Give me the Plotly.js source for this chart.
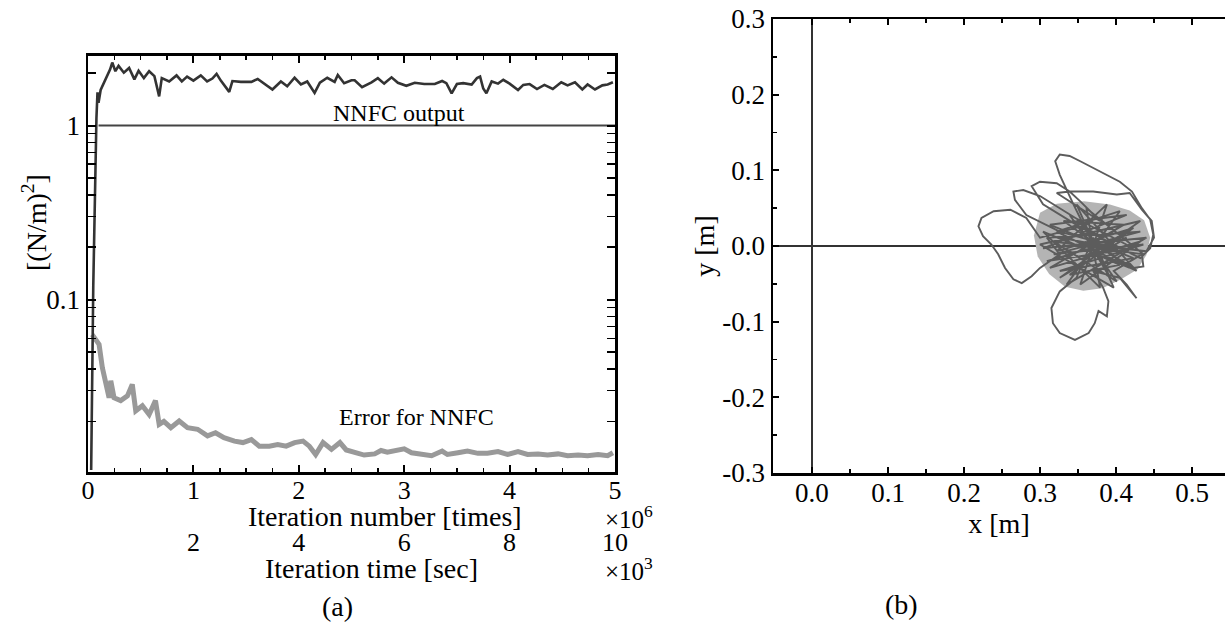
<!DOCTYPE html>
<html>
<head>
<meta charset="utf-8">
<script src="https://cdn.plot.ly/plotly-3.0.1.min.js"></script>
<style>html,body{margin:0;padding:0;background:#fff;}#chart{width:1225px;height:623px;}</style>
</head>
<body>
<div id="chart"></div>
<script>
// ---------- (a) learning curves ----------
const outputX = [0.03,0.04,0.05,0.06,0.07,0.08,0.09,0.10,0.12,0.15,0.18,0.21,0.23,
  0.26,0.29,0.34,0.39,0.44,0.48,0.53,0.58,0.63,0.675,
  0.70,0.77,0.84,0.89,0.94,1.00,1.07,1.13,1.18,1.22,
  1.26,1.34,1.37,1.45,1.55,1.61,1.69,1.75,1.83,1.89,
  1.96,2.02,2.08,2.15,2.20,2.27,2.34,2.37,2.43,2.50,
  2.53,2.60,2.69,2.75,2.81,2.88,2.94,3.02,3.10,3.19,
  3.29,3.36,3.40,3.45,3.50,3.56,3.64,3.69,3.72,3.75,
  3.78,3.83,3.89,3.94,4.00,4.08,4.13,4.19,4.26,4.33,
  4.41,4.49,4.55,4.62,4.69,4.74,4.81,4.88,4.93,4.98];
const outputY = [0.0105,0.05,0.12,0.25,0.6,1.1,1.55,1.35,1.6,1.75,1.95,2.1,2.3,
  2.05,2.2,2.01,2.14,1.84,2.06,1.87,2.05,1.92,1.47,
  1.87,1.79,1.94,1.79,1.91,1.81,1.94,1.79,1.86,1.98,
  1.81,1.56,1.80,1.78,1.78,1.85,1.72,1.61,1.79,1.68,
  1.88,1.72,1.79,1.54,1.76,1.88,1.78,1.95,1.75,1.82,
  1.82,1.66,1.77,1.87,1.74,1.89,1.76,1.69,1.76,1.73,
  1.73,1.80,1.75,1.53,1.73,1.75,1.72,1.87,1.91,1.63,
  1.53,1.79,1.74,1.83,1.74,1.60,1.71,1.73,1.62,1.71,
  1.62,1.77,1.70,1.77,1.61,1.72,1.61,1.70,1.72,1.77];

const refX = [0.1, 5];
const refY = [1.0, 1.0];

const errX = [0.04,0.057,0.105,0.136,0.168,0.20,0.216,0.247,0.31,0.374,0.42,0.453,0.516,0.58,0.64,0.675,0.72,0.786,0.865,0.944,
  1.04,1.134,1.21,1.29,1.39,1.47,1.55,1.625,1.72,1.80,1.88,1.96,2.04,2.10,2.16,2.23,2.31,2.39,2.45,
  2.53,2.62,2.72,2.78,2.84,2.94,3.00,3.07,3.17,3.26,3.36,3.41,3.51,3.60,3.70,3.79,3.89,3.98,
  4.08,4.17,4.27,4.36,4.46,4.55,4.65,4.74,4.84,4.93,4.98];
const errY = [0.063,0.0605,0.0553,0.0407,0.0326,0.0273,0.0342,0.0273,0.0263,0.028,0.0326,0.023,0.0246,0.0219,0.0263,0.0192,0.020,0.0184,0.0201,0.0184,
  0.0180,0.0165,0.0172,0.0161,0.0154,0.0151,0.0157,0.0144,0.0144,0.0147,0.0144,0.0151,0.0154,0.0144,0.0129,0.0151,0.0138,0.0151,0.0137,
  0.0133,0.0128,0.0130,0.0136,0.0133,0.0136,0.0139,0.0132,0.0130,0.0127,0.0135,0.0129,0.0132,0.0135,0.0131,0.0131,0.0134,0.0129,
  0.0134,0.0129,0.0130,0.0128,0.0130,0.0127,0.0128,0.0127,0.0129,0.0127,0.0132];

const iterTickVals = [0,1,2,3,4,5];
const iterTickText = ['0','1','2','3','4','5'];
const timeTickVals = [2,4,6,8,10];
const timeTickText = ['2','4','6','8','10'];
const logTickVals = [0.1, 1];
const logTickText = ['0.1', '1'];
const logMinorVals = [0.02,0.03,0.04,0.05,0.06,0.07,0.08,0.09,0.2,0.3,0.4,0.5,0.6,0.7,0.8,0.9,2];

// ---------- (b) x-y trajectory ----------
const trajX = [
  0.370,0.344,0.326,0.320,0.326,0.339,0.353,0.370,0.388,0.405,0.421,0.434,0.445,0.449,0.445,0.432,0.414,
  0.348,0.304,0.289,0.300,0.322,0.339,0.353,0.379,
  0.344,0.322,0.339,0.370,0.401,0.418,0.434,0.447,0.450,0.440,0.405,
  0.326,0.282,0.267,0.265,0.278,0.300,0.326,0.361,
  0.300,0.282,0.261,0.239,0.223,0.219,0.225,0.236,0.245,0.254,0.265,0.276,0.289,0.300,0.326,
  0.309,0.432,0.318,0.436,0.326,0.423,0.313,0.414,0.304,0.440,0.335,0.405,0.322,0.427,0.348,0.397,
  0.300,0.432,0.326,0.414,0.309,0.423,0.339,0.401,0.318,0.436,0.361,0.379,0.304,0.418,0.331,0.410,
  0.313,0.432,0.353,0.388,0.322,0.423,0.339,0.405,0.326,0.401,0.348,0.392,0.370,
  0.348,0.326,0.315,0.317,0.326,0.346,0.364,0.372,0.377,0.388,0.390,0.383,0.370,
  0.405,0.418,0.427,0.414,0.397,
  0.434,0.436,0.423,0.401,0.379];
const trajY = [
  0.002,0.055,0.094,0.112,0.121,0.119,0.112,0.103,0.094,0.085,0.072,0.050,0.035,0.015,-0.003,-0.016,-0.007,
  0.028,0.055,0.079,0.085,0.083,0.072,0.059,0.033,
  0.055,0.070,0.072,0.072,0.068,0.070,0.048,0.033,0.011,-0.007,-0.003,
  0.019,0.041,0.061,0.072,0.074,0.066,0.050,0.028,
  0.011,0.037,0.048,0.046,0.037,0.026,0.013,0.002,-0.011,-0.029,-0.044,-0.049,-0.040,-0.029,-0.011,
  0.011,0.019,-0.011,0.002,-0.033,-0.016,0.028,0.041,-0.003,0.011,-0.051,0.046,0.019,-0.033,0.055,-0.055,
  0.002,0.033,-0.042,0.011,-0.020,-0.003,0.041,-0.047,0.006,-0.011,0.050,-0.055,0.019,-0.029,0.033,0.028,
  -0.029,0.006,-0.051,0.055,-0.007,0.024,-0.038,-0.025,0.011,-0.003,0.033,-0.042,0.011,
  -0.042,-0.060,-0.082,-0.102,-0.115,-0.124,-0.115,-0.102,-0.086,-0.093,-0.073,-0.055,-0.033,
  -0.042,-0.058,-0.069,-0.051,-0.033,
  -0.011,-0.027,-0.029,-0.016,0.002];

// dense central region of the trajectory (outline)
const coreX = [0.300,0.322,0.358,0.392,0.418,0.437,0.445,0.440,0.428,0.405,0.382,0.357,0.333,0.312,0.297,0.292,0.300];
const coreY = [0.044,0.056,0.059,0.055,0.047,0.034,0.011,-0.012,-0.031,-0.045,-0.056,-0.059,-0.054,-0.037,-0.014,0.014,0.044];

const xyTickVals = [0, 0.1, 0.2, 0.3, 0.4, 0.5];
const xyTickText = ['0.0','0.1','0.2','0.3','0.4','0.5'];
const yyTickVals = [-0.3,-0.2,-0.1,0,0.1,0.2,0.3];
const yyTickText = ['-0.3','-0.2','-0.1','0.0','0.1','0.2','0.3'];

// ---------- drawing ----------
const W = 1225, H = 623;
const PX = v => v / W;
const PY = v => 1 - v / H;
const FONT = 'Liberation Serif';
const tf = () => ({family: FONT, size: 26, color: '#000'});
const minorTicks = (extra) => Object.assign({ticks: 'inside', ticklen: 4, tickwidth: 1.5, tickcolor: '#000'}, extra);

const traces = [
  {x: errX, y: errY, xaxis: 'x', yaxis: 'y', mode: 'lines', name: 'Error for NNFC',
   line: {color: '#999', width: 5}, showlegend: false, hoverinfo: 'skip'},
  {x: refX, y: refY, xaxis: 'x', yaxis: 'y', mode: 'lines', name: 'reference',
   line: {color: '#444', width: 1.8}, showlegend: false, hoverinfo: 'skip'},
  {x: outputX, y: outputY, xaxis: 'x', yaxis: 'y', mode: 'lines', name: 'NNFC output',
   line: {color: '#333', width: 2.6}, showlegend: false, hoverinfo: 'skip'},
  {x: [0, 10], y: [null, null], xaxis: 'x2', yaxis: 'y', mode: 'lines', showlegend: false, hoverinfo: 'skip'},
  {x: coreX, y: coreY, xaxis: 'x3', yaxis: 'y3', mode: 'lines', fill: 'toself', fillcolor: '#b4b4b4',
   line: {width: 0, color: 'rgba(0,0,0,0)'}, showlegend: false, hoverinfo: 'skip'},
  {x: trajX, y: trajY, xaxis: 'x3', yaxis: 'y3', mode: 'lines', name: 'trajectory',
   line: {color: '#5c5c5c', width: 1.9}, showlegend: false, hoverinfo: 'skip'}
];

const layout = {
  width: W, height: H,
  margin: {l: 0, r: 0, t: 0, b: 0},
  paper_bgcolor: '#fff', plot_bgcolor: 'rgba(0,0,0,0)',
  font: {family: FONT, color: '#000'},
  showlegend: false,
  xaxis: {
    domain: [PX(88), PX(615)], range: [0, 5], anchor: 'y',
    showline: true, linecolor: '#000', linewidth: 2.5, mirror: 'allticks',
    showgrid: false, zeroline: false, fixedrange: true,
    ticks: 'inside', tickcolor: '#000', ticklen: 7, tickwidth: 2,
    tickmode: 'array', tickvals: iterTickVals, ticktext: iterTickText,
    tickfont: tf(), ticklabelstandoff: -7,
    minor: minorTicks({dtick: 0.25, tick0: 0})
  },
  xaxis2: {
    overlaying: 'x', anchor: 'free', position: PY(524), side: 'bottom',
    range: [0, 10], showline: false, showgrid: false, zeroline: false, ticks: '',
    tickmode: 'array', tickvals: timeTickVals, ticktext: timeTickText,
    tickfont: tf(), fixedrange: true
  },
  yaxis: {
    domain: [PY(472), PY(55.5)], type: 'log', range: [-1.99, 0.402], anchor: 'x',
    showline: true, linecolor: '#000', linewidth: 2.5, mirror: 'allticks',
    showgrid: false, zeroline: false, fixedrange: true,
    ticks: 'inside', tickcolor: '#000', ticklen: 8, tickwidth: 2,
    tickmode: 'array', tickvals: logTickVals, ticktext: logTickText,
    tickfont: {family: FONT, size: 27, color: '#000'},
    minor: minorTicks({tickmode: 'array', tickvals: logMinorVals, ticklen: 5})
  },
  xaxis3: {
    domain: [PX(773), 1], range: [-0.0513, 0.5434], anchor: 'y3',
    showline: true, linecolor: '#000', linewidth: 2.5, mirror: 'allticks',
    showgrid: false, fixedrange: true,
    ticks: 'inside', tickcolor: '#000', ticklen: 6, tickwidth: 2,
    tickmode: 'array', tickvals: xyTickVals, ticktext: xyTickText,
    tickfont: {family: FONT, size: 27, color: '#000'}, ticklabelstandoff: -6,
    minor: minorTicks({dtick: 0.05, tick0: 0}),
    zeroline: true, zerolinecolor: '#333', zerolinewidth: 1.6,
    title: {text: 'x [m]', font: {family: FONT, size: 28, color: '#000'}, standoff: 0}
  },
  yaxis3: {
    domain: [PY(473), PY(19)], range: [-0.3, 0.3], anchor: 'x3',
    showline: true, linecolor: '#000', linewidth: 2.5, mirror: false,
    showgrid: false, fixedrange: true,
    ticks: 'inside', tickcolor: '#000', ticklen: 6, tickwidth: 2,
    tickmode: 'array', tickvals: yyTickVals, ticktext: yyTickText,
    tickfont: {family: FONT, size: 27, color: '#000'},
    minor: minorTicks({dtick: 0.05, tick0: 0}),
    zeroline: true, zerolinecolor: '#333', zerolinewidth: 1.6,
    title: {text: 'y [m]', font: {family: FONT, size: 28, color: '#000'}, standoff: 0}
  },
  annotations: [
    {xref: 'paper', yref: 'paper', x: PX(34), y: PY(223), text: '[(N/m)<sup>2</sup>]', textangle: -90,
     showarrow: false, font: {family: FONT, size: 28, color: '#000'}, xanchor: 'center', yanchor: 'middle'},
    {xref: 'paper', yref: 'paper', x: PX(385), y: PY(516), text: 'Iteration number [times]',
     showarrow: false, font: {family: FONT, size: 28, color: '#000'}, xanchor: 'center', yanchor: 'middle'},
    {xref: 'paper', yref: 'paper', x: PX(371), y: PY(568), text: 'Iteration time [sec]',
     showarrow: false, font: {family: FONT, size: 28, color: '#000'}, xanchor: 'center', yanchor: 'middle'},
    {xref: 'paper', yref: 'paper', x: PX(603), y: PY(517), text: '\u00d710<sup>6</sup>',
     showarrow: false, font: {family: FONT, size: 25, color: '#000'}, xanchor: 'left', yanchor: 'middle'},
    {xref: 'paper', yref: 'paper', x: PX(603), y: PY(569), text: '\u00d710<sup>3</sup>',
     showarrow: false, font: {family: FONT, size: 25, color: '#000'}, xanchor: 'left', yanchor: 'middle'},
    {xref: 'x', yref: 'y', x: 2.95, y: 0.069, text: 'NNFC output',
     showarrow: false, font: {family: FONT, size: 24, color: '#000'}, xanchor: 'center', yanchor: 'middle'},
    {xref: 'x', yref: 'y', x: 3.12, y: -1.672, text: 'Error for NNFC',
     showarrow: false, font: {family: FONT, size: 24, color: '#000'}, xanchor: 'center', yanchor: 'middle'},
    {xref: 'paper', yref: 'paper', x: PX(337), y: PY(606), text: '(a)',
     showarrow: false, font: {family: FONT, size: 28, color: '#000'}, xanchor: 'center', yanchor: 'middle'},
    {xref: 'paper', yref: 'paper', x: PX(902), y: PY(604), text: '(b)',
     showarrow: false, font: {family: FONT, size: 28, color: '#000'}, xanchor: 'center', yanchor: 'middle'}
  ]
};

Plotly.newPlot('chart', traces, layout, {staticPlot: true, displayModeBar: false});
</script>
</body>
</html>
